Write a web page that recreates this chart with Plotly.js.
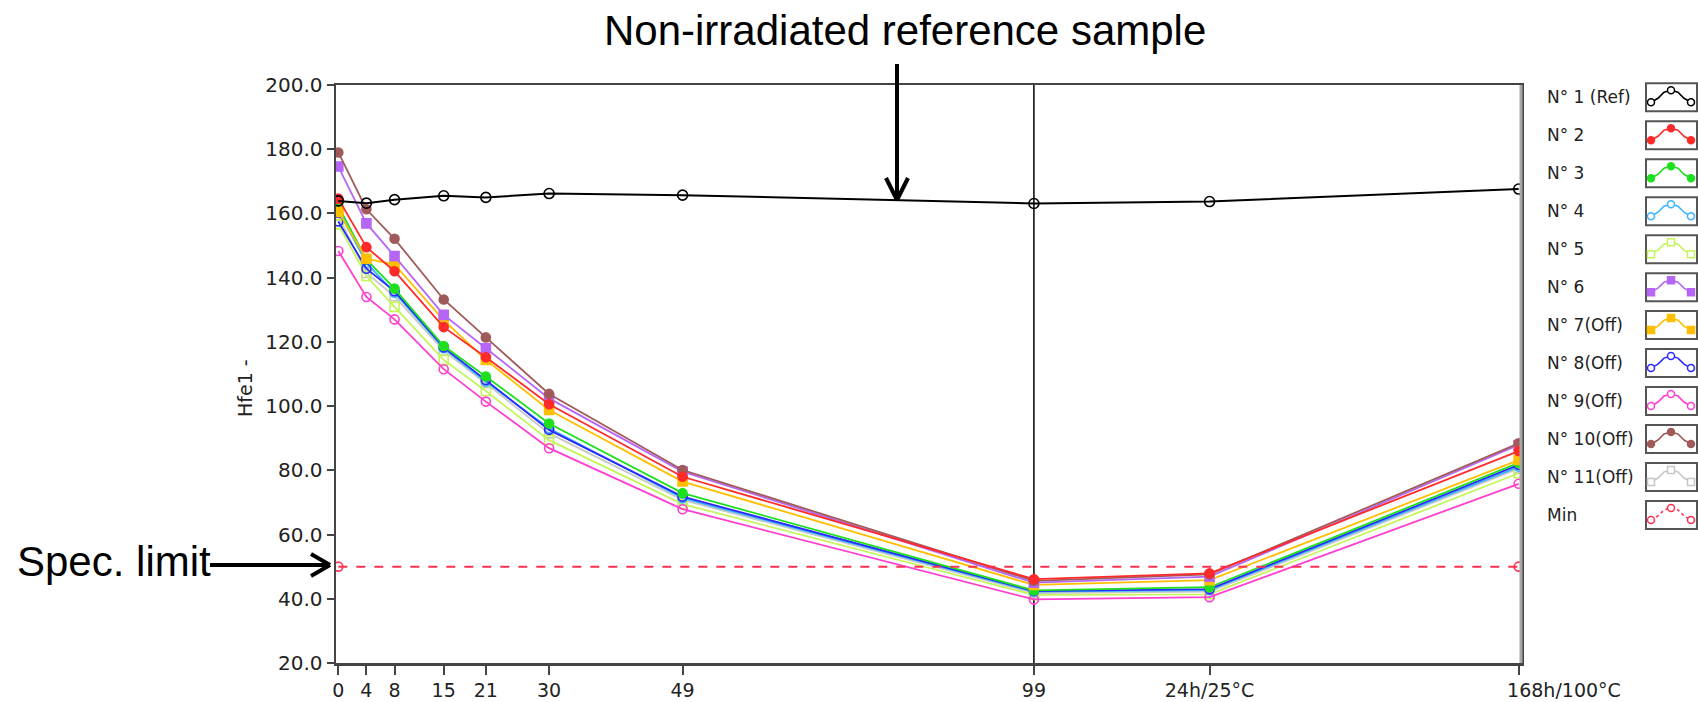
<!DOCTYPE html>
<html>
<head>
<meta charset="utf-8">
<script src="https://cdn.plot.ly/plotly-3.0.1.min.js"></script>
<style>
html,body{margin:0;padding:0;background:#fff;}
#chart{width:1698px;height:702px;}
</style>
</head>
<body>
<div id="chart"></div>
<script>
// ---- data ----
const xPos = [0, 4, 8, 15, 21, 30, 49, 99, 124, 168];
const xLabels = ['0', '4', '8', '15', '21', '30', '49', '99', '24h/25°C', '168h/100°C'];

const seriesNames = ['N° 1 (Ref)', 'N° 2', 'N° 3', 'N° 4', 'N° 5', 'N° 6', 'N° 7(Off)', 'N° 8(Off)', 'N° 9(Off)', 'N° 10(Off)', 'N° 11(Off)', 'Min'];

const n1  = [163.9, 163.2, 164.3, 165.5, 165.0, 166.2, 165.7, 163.1, 163.7, 167.6];
const n2  = [164.6, 149.5, 142.0, 124.6, 115.2, 100.6, 78.0, 46.1, 47.9, 86.0];
const n3  = [162.3, 145.7, 136.6, 118.7, 109.2, 94.6, 72.9, 42.6, 43.6, 82.3];
const n4  = [161.0, 144.6, 135.3, 118.0, 107.6, 93.1, 71.3, 42.2, 42.7, 81.1];
const n5  = [156.6, 140.5, 130.9, 114.4, 104.7, 89.4, 69.5, 41.2, 41.4, 79.1];
const n6  = [174.6, 156.9, 146.7, 128.4, 118.0, 102.4, 79.6, 45.0, 46.9, 87.9];
const n7  = [160.5, 145.9, 144.1, 126.8, 114.4, 98.8, 76.5, 44.3, 45.8, 83.2];
const n8  = [157.5, 142.8, 135.8, 118.3, 108.1, 92.6, 71.8, 42.4, 43.0, 81.7];
const n9  = [148.3, 134.0, 127.0, 111.5, 101.4, 86.9, 67.9, 39.8, 40.5, 75.8];
const n10 = [179.0, 161.3, 152.1, 133.2, 121.4, 103.8, 80.1, 45.6, 47.6, 88.4];
const n11 = [159.2, 141.5, 134.2, 117.3, 107.1, 91.5, 70.8, 41.8, 42.2, 80.6];
const minX = [0, 168];
const minY = [50, 50];

const cursorX = 99;
const yTicks = [20, 40, 60, 80, 100, 120, 140, 160, 180, 200];

// ---- styles ----
const styles = [
  {color: '#000000', symbol: 'circle-open', filled: false, dash: 'solid'},
  {color: '#ff2a2a', symbol: 'circle', filled: true, dash: 'solid'},
  {color: '#1fe01f', symbol: 'circle', filled: true, dash: 'solid'},
  {color: '#3cb4ff', symbol: 'circle-open', filled: false, dash: 'solid'},
  {color: '#c4f55a', symbol: 'square-open', filled: false, dash: 'solid'},
  {color: '#b566f5', symbol: 'square', filled: true, dash: 'solid'},
  {color: '#ffbf00', symbol: 'square', filled: true, dash: 'solid'},
  {color: '#2a2aff', symbol: 'circle-open', filled: false, dash: 'solid'},
  {color: '#ff3fcf', symbol: 'circle-open', filled: false, dash: 'solid'},
  {color: '#a05a5a', symbol: 'circle', filled: true, dash: 'solid'},
  {color: '#c8c8c8', symbol: 'square-open', filled: false, dash: 'solid'},
  {color: '#ff3050', symbol: 'circle-open', filled: false, dash: 'dash'}
];

const ys = [n1, n2, n3, n4, n5, n6, n7, n8, n9, n10, n11];
const traces = [];
const order = [10, 4, 8, 3, 7, 2, 6, 5, 9, 1, 0];
order.forEach(i => {
  const s = styles[i];
  traces.push({
    x: xPos, y: ys[i], name: seriesNames[i], type: 'scatter', mode: 'lines+markers',
    line: {color: s.color, width: i === 0 ? 2 : 1.8},
    marker: {symbol: s.symbol, size: i === 0 ? 10 : 9, color: s.color, line: {color: s.color, width: 1.6}},
    showlegend: false
  });
});
traces.push({
  x: minX, y: minY, name: seriesNames[11], type: 'scatter', mode: 'lines+markers',
  line: {color: styles[11].color, width: 2, dash: 'dash'},
  marker: {symbol: 'circle-open', size: 9, color: styles[11].color, line: {color: styles[11].color, width: 1.6}},
  showlegend: false
});

// tick text: the last label sits to the right of its tick, as in the original
const tickText = xLabels.map((t, i) => i === xLabels.length - 1 ? '\u00a0'.repeat(15) + t : t);

// ---- pixel -> paper helpers (plot area 336..1521 x 85..663) ----
const PL = 336, PR = 1521, PT = 85, PB = 663;
const X = px => (px - PL) / (PR - PL);
const Y = py => (PB - py) / (PB - PT);

const shapes = [];
const annotations = [];

// cursor line
shapes.push({type: 'line', xref: 'x', yref: 'paper', x0: cursorX, x1: cursorX, y0: 0, y1: 1,
  line: {color: '#2a2a2a', width: 1.8}, layer: 'below'});
// right border lighter
shapes.push({type: 'line', xref: 'paper', yref: 'paper', x0: 1, x1: 1, y0: 0, y1: 1,
  line: {color: '#a8a8a8', width: 3}});

// custom legend
seriesNames.forEach((nm, i) => {
  const s = styles[i];
  const c = 97.3 + 37.97 * i;
  annotations.push({xref: 'paper', yref: 'paper', x: X(1545), y: Y(c), xanchor: 'left', yanchor: 'middle',
    text: nm, showarrow: false, font: {family: 'DejaVu Sans', size: 17, color: '#222'}});
  shapes.push({type: 'rect', xref: 'paper', yref: 'paper', x0: X(1646), x1: X(1697), y0: Y(c + 14), y1: Y(c - 14),
    line: {color: '#555', width: 2}, fillcolor: 'rgba(0,0,0,0)'});
  const pts = [[1651, c + 5], [1658, c + 1], [1664, c - 5], [1671, c - 7], [1678, c - 5], [1684, c + 1], [1691, c + 5]];
  const path = pts.map((p, k) => (k ? 'L' : 'M') + X(p[0]) + ',' + Y(p[1])).join(' ');
  shapes.push({type: 'path', xref: 'paper', yref: 'paper', path: path,
    line: {color: s.color, width: 1.6, dash: s.dash === 'dash' ? 'dot' : 'solid'}});
  [[1651, c + 5], [1671, c - 7], [1691, c + 5]].forEach(p => {
    const r = 3.5;
    shapes.push({type: s.symbol.startsWith('square') ? 'rect' : 'circle', xref: 'paper', yref: 'paper',
      x0: X(p[0] - r), x1: X(p[0] + r), y0: Y(p[1] + r), y1: Y(p[1] - r),
      line: {color: s.color, width: 1.5}, fillcolor: s.filled ? s.color : '#ffffff'});
  });
});

// arrows
const arrowCol = '#000000';
shapes.push({type: 'line', xref: 'paper', yref: 'paper', x0: X(897), x1: X(897), y0: Y(64), y1: Y(199), line: {color: arrowCol, width: 4}});
shapes.push({type: 'line', xref: 'paper', yref: 'paper', x0: X(886), x1: X(897), y0: Y(178), y1: Y(200), line: {color: arrowCol, width: 4}});
shapes.push({type: 'line', xref: 'paper', yref: 'paper', x0: X(908), x1: X(897), y0: Y(178), y1: Y(200), line: {color: arrowCol, width: 4}});
shapes.push({type: 'line', xref: 'paper', yref: 'paper', x0: X(210), x1: X(329), y0: Y(565), y1: Y(565), line: {color: arrowCol, width: 4}});
shapes.push({type: 'line', xref: 'paper', yref: 'paper', x0: X(311), x1: X(330), y0: Y(554), y1: Y(565), line: {color: arrowCol, width: 4}});
shapes.push({type: 'line', xref: 'paper', yref: 'paper', x0: X(311), x1: X(330), y0: Y(576), y1: Y(565), line: {color: arrowCol, width: 4}});

annotations.push({xref: 'paper', yref: 'paper', x: X(905), y: Y(31), xanchor: 'center', yanchor: 'middle',
  text: 'Non-irradiated reference sample', showarrow: false,
  font: {family: 'Liberation Sans, Arial, sans-serif', size: 42, color: '#000'}});
annotations.push({xref: 'paper', yref: 'paper', x: X(114), y: Y(561), xanchor: 'center', yanchor: 'middle',
  text: 'Spec. limit', showarrow: false,
  font: {family: 'Liberation Sans, Arial, sans-serif', size: 42, color: '#000'}});
// y axis title
annotations.push({xref: 'paper', yref: 'paper', x: X(245), y: Y(388), xanchor: 'center', yanchor: 'middle',
  text: 'Hfe1 -', textangle: -90, showarrow: false,
  font: {family: 'DejaVu Sans', size: 19, color: '#222'}});

const layout = {
  width: 1698, height: 702,
  margin: {l: PL, r: 1698 - PR, t: PT, b: 702 - PB},
  paper_bgcolor: '#ffffff', plot_bgcolor: '#ffffff',
  showlegend: false,
  font: {family: 'DejaVu Sans', color: '#222'},
  xaxis: {
    range: [-0.33, 168.33], tickmode: 'array', tickvals: xPos, ticktext: tickText,
    showgrid: false, zeroline: false, showline: true, mirror: true,
    linecolor: '#444', linewidth: 2.5,
    ticks: 'outside', ticklen: 9, tickwidth: 2, tickcolor: '#444',
    tickfont: {family: 'DejaVu Sans', size: 19, color: '#222'}
  },
  yaxis: {
    range: [20, 200], tickmode: 'array', tickvals: yTicks, tickformat: '.1f',
    showgrid: false, zeroline: false, showline: true, mirror: true,
    linecolor: '#444', linewidth: 2.5,
    ticks: 'outside', ticklen: 7, tickwidth: 2, tickcolor: '#444',
    tickfont: {family: 'DejaVu Sans', size: 20, color: '#222'}
  },
  shapes: shapes,
  annotations: annotations
};

Plotly.newPlot('chart', traces, layout, {displayModeBar: false, staticPlot: true});
</script>
</body>
</html>
